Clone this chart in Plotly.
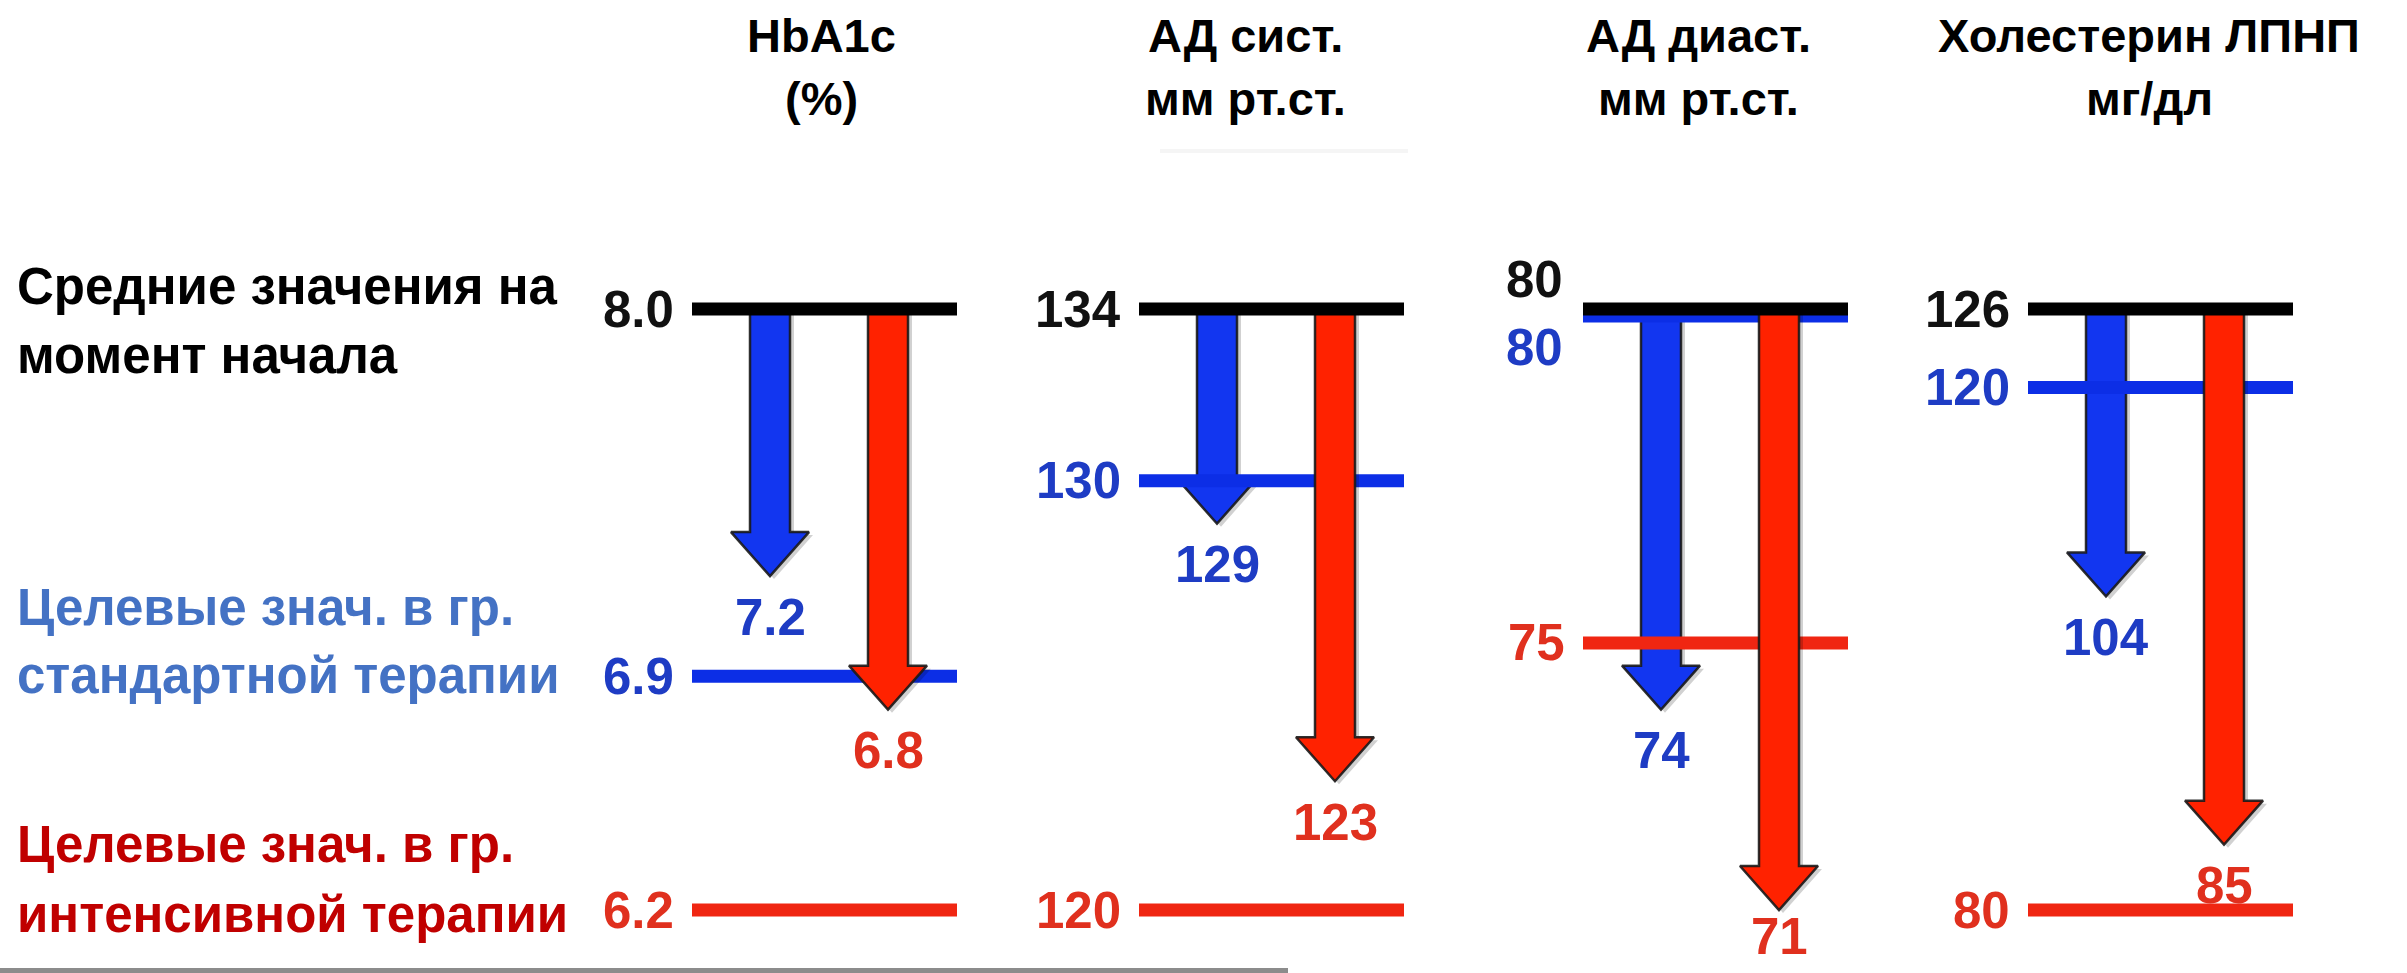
import plotly.graph_objects as go

# Treatment targets vs. achieved means, four indicators
indicators = ["HbA1c", "АД сист.", "АД диаст.", "Холестерин ЛПНП"]
units = ["(%)", "мм рт.ст.", "мм рт.ст.", "мг/дл"]
decimals = [1, 0, 0, 0]

baseline_mean = [8.0, 134, 80, 126]      # mean value at start
standard_target = [6.9, 130, 80, 120]    # target, standard therapy
standard_result = [7.2, 129, 74, 104]    # achieved, standard therapy
intensive_target = [6.2, 120, 75, 80]    # target, intensive therapy
intensive_result = [6.8, 123, 71, 85]    # achieved, intensive therapy

row_labels = [
    ("Средние значения на", "момент начала"),
    ("Целевые знач. в гр.", "стандартной терапии"),
    ("Целевые знач. в гр.", "интенсивной терапии"),
]

# ---- layout constants (pixels) ----
W, H = 2407, 973
TOP_PX, BOTTOM_PX = 309, 910        # where baseline and lowest mark sit
PANEL_X0 = [692, 1139, 1583, 2028]  # left end of the horizontal levels
LEVEL_LEN = 265
BLUE_DX, RED_DX = 78, 196           # arrow centres relative to PANEL_X0
SHAFT_HALF, HEAD_HALF, HEAD_H = 20, 39, 44
LABEL_GAP = 41                      # value label distance below arrow tip
LABEL_HALF_BOX = 37                 # half height of a value label box
HEADER_X = [821, 1245, 1698, 2149]

BLUE_ARROW, RED_ARROW = "#1236F0", "#FF2200"
BLUE_LINE, RED_LINE = "#0C2EE6", "#F02612"
BLUE_NUM, RED_NUM, BLACK = "#1E3CC4", "#E0301E", "#111111"
FONT = "Liberation Sans, Arial, sans-serif"

fig = go.Figure()
annotations = []
axes = {}


def py(px):
    """figure pixel row -> paper y"""
    return 1 - px / H


def fmt(v, d):
    return f"{v:.{d}f}"


for i in range(4):
    yname = "y" if i == 0 else f"y{i + 1}"
    axkey = "yaxis" if i == 0 else f"yaxis{i + 1}"
    base = baseline_mean[i]
    low = min(intensive_target[i], intensive_result[i])
    s = (BOTTOM_PX - TOP_PX) / (base - low)   # pixels per unit
    ymax = base + TOP_PX / s
    ymin = ymax - H / s
    axes[axkey] = dict(range=[ymin, ymax], domain=[0, 1], visible=False,
                       fixedrange=True,
                       **({} if i == 0 else {"overlaying": "y"}))

    def to_px(v):
        return (ymax - v) * s

    x0 = PANEL_X0[i]
    x1 = x0 + LEVEL_LEN
    head_u = HEAD_H / s
    d = decimals[i]

    def arrow(cx, tip, color):
        xs = [cx - SHAFT_HALF, cx + SHAFT_HALF, cx + SHAFT_HALF, cx + HEAD_HALF,
              cx, cx - HEAD_HALF, cx - SHAFT_HALF, cx - SHAFT_HALF]
        ys = [base, base, tip + head_u, tip + head_u, tip, tip + head_u,
              tip + head_u, base]
        # soft shadow
        fig.add_trace(go.Scatter(
            x=[v + 4 for v in xs], y=[v - 3 / s for v in ys], yaxis=yname,
            fill="toself", fillcolor="rgba(0,0,0,0.18)", mode="lines",
            line=dict(width=0), hoverinfo="skip", showlegend=False))
        fig.add_trace(go.Scatter(
            x=xs, y=ys, yaxis=yname, fill="toself", fillcolor=color,
            mode="lines", line=dict(color="rgba(25,25,25,0.9)", width=2.5),
            hoverinfo="skip", showlegend=False))

    def level(v, color, width=13, nudge_px=0):
        yv = v - nudge_px / s
        fig.add_trace(go.Scatter(
            x=[x0, x1], y=[yv, yv], yaxis=yname, mode="lines",
            line=dict(color=color, width=width), hoverinfo="skip",
            showlegend=False))

    same_as_base = standard_target[i] == base

    # standard-therapy arrow, then target levels, then intensive arrow
    arrow(x0 + BLUE_DX, standard_result[i], BLUE_ARROW)
    # a target equal to the baseline is drawn just under the black level
    level(standard_target[i], BLUE_LINE, 13, 7 if same_as_base else 0)
    level(intensive_target[i], RED_LINE)
    arrow(x0 + RED_DX, intensive_result[i], RED_ARROW)
    level(base, "#000000", 13)

    num_font = dict(family=FONT, size=51, weight="bold")
    yref = yname

    if same_as_base:
        annotations.append(dict(x=x0, y=base, xref="x", yref=yref, xanchor="right",
                                yanchor="middle", xshift=-18, yshift=30,
                                text=fmt(base, d), showarrow=False,
                                font=dict(num_font, color=BLACK)))
        annotations.append(dict(x=x0, y=standard_target[i], xref="x", yref=yref,
                                xanchor="right", yanchor="middle", xshift=-18,
                                yshift=-38, text=fmt(standard_target[i], d),
                                showarrow=False, font=dict(num_font, color=BLUE_NUM)))
    else:
        annotations.append(dict(x=x0, y=base, xref="x", yref=yref, xanchor="right",
                                yanchor="middle", xshift=-16, text=fmt(base, d),
                                showarrow=False, font=dict(num_font, color=BLACK)))
        annotations.append(dict(x=x0, y=standard_target[i], xref="x", yref=yref,
                                xanchor="right", yanchor="middle", xshift=-16,
                                text=fmt(standard_target[i], d), showarrow=False,
                                font=dict(num_font, color=BLUE_NUM)))
    annotations.append(dict(x=x0, y=intensive_target[i], xref="x", yref=yref,
                            xanchor="right", yanchor="middle", xshift=-16,
                            text=fmt(intensive_target[i], d), showarrow=False,
                            font=dict(num_font, color=RED_NUM)))

    # value labels under the arrow tips, kept inside the figure
    for val, cx, col in ((standard_result[i], x0 + BLUE_DX, BLUE_NUM),
                         (intensive_result[i], x0 + RED_DX, RED_NUM)):
        gap = min(LABEL_GAP, H - LABEL_HALF_BOX - to_px(val))
        annotations.append(dict(x=cx, y=val, xref="x", yref=yref,
                                xanchor="center", yanchor="middle", yshift=-gap,
                                text=fmt(val, d), showarrow=False,
                                font=dict(num_font, color=col)))

    # column header
    hdr_font = dict(family=FONT, size=47, weight="bold", color="#000000")
    annotations.append(dict(x=HEADER_X[i] / W, y=py(35), xref="paper", yref="paper",
                            xanchor="center", yanchor="middle", text=indicators[i],
                            showarrow=False, font=hdr_font))
    annotations.append(dict(x=HEADER_X[i] / W, y=py(99), xref="paper", yref="paper",
                            xanchor="center", yanchor="middle", text=units[i],
                            showarrow=False, font=hdr_font))

# row labels on the left
row_colors = ["#000000", "#4472C4", "#C00000"]
row_centres = [(287, 355), (607, 675), (844, 914)]
for (l1, l2), col, (c1, c2) in zip(row_labels, row_colors, row_centres):
    for txt, c in ((l1, c1), (l2, c2)):
        annotations.append(dict(x=15 / W, y=py(c), xref="paper", yref="paper",
                                xanchor="left", yanchor="middle", text=txt,
                                showarrow=False,
                                font=dict(family=FONT, size=51, weight="bold",
                                          color=col)))

fig.update_layout(
    width=W, height=H,
    margin=dict(l=0, r=0, t=0, b=0),
    paper_bgcolor="white", plot_bgcolor="white",
    showlegend=False, hovermode=False,
    xaxis=dict(range=[0, W], domain=[0, 1], visible=False, fixedrange=True),
    annotations=annotations,
    shapes=[
        dict(type="rect", xref="paper", yref="paper", x0=0, x1=1288 / W,
             y0=0, y1=5 / H, fillcolor="#8c8c8c", line=dict(width=0), layer="above"),
        dict(type="line", xref="paper", yref="paper", x0=1160 / W, x1=1408 / W,
             y0=py(151), y1=py(151), line=dict(color="rgba(0,0,0,0.04)", width=4)),
    ],
    **axes,
)

fig.write_html("out.html", config={"displayModeBar": False})
